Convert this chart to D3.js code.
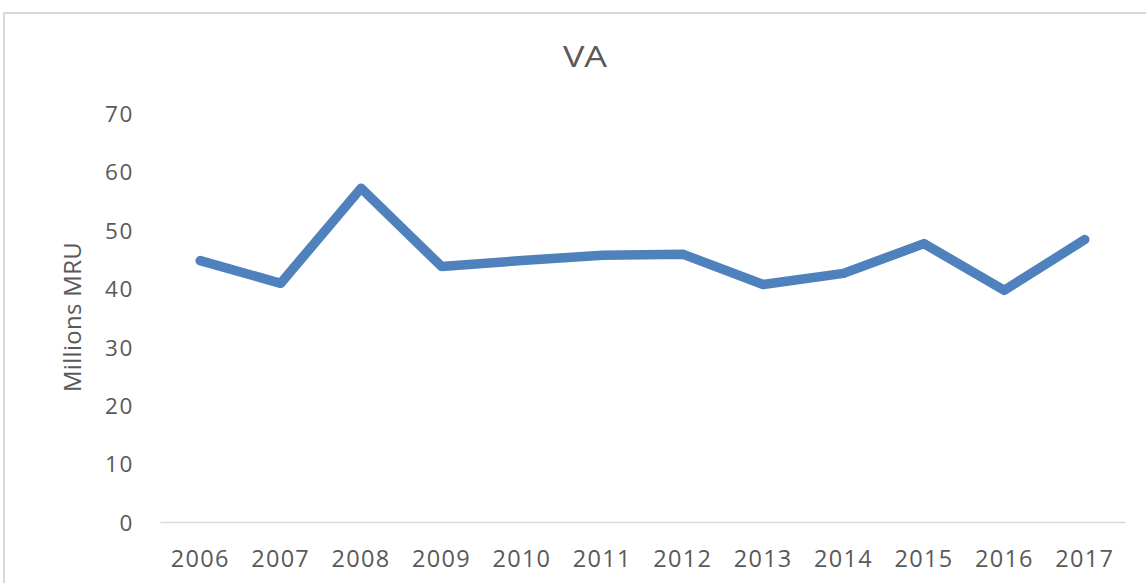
<!DOCTYPE html>
<html>
<head>
<meta charset="utf-8">
<script src="https://cdn.jsdelivr.net/npm/d3@7"></script>
<style>
  html, body { margin: 0; padding: 0; background: #fff; }
  svg { display: block; }
  text { font-family: "Open Sans", "Liberation Sans", sans-serif; fill: #595959; }
</style>
</head>
<body>
<svg id="chart" width="1146" height="583"></svg>
<script>
// Value added, millions of MRU, by year
const years = ["2006","2007","2008","2009","2010","2011","2012","2013","2014","2015","2016","2017"];
const values = [44.8, 40.9, 57.2, 43.8, 44.8, 45.7, 45.9, 40.7, 42.6, 47.7, 39.7, 48.4];
const yTicks = [0, 10, 20, 30, 40, 50, 60, 70];
const title = "VA";
const yTitle = "Millions MRU";

const svg = d3.select("#chart");
const plot = { left: 160, right: 1125, top: 113.5, bottom: 522 };

// outer chart frame (runs off the right and bottom edges)
svg.append("rect")
  .attr("x", 4).attr("y", 13)
  .attr("width", 1300).attr("height", 700)
  .attr("fill", "none")
  .attr("stroke", "#d9d9d9")
  .attr("stroke-width", 2);

const x = d3.scaleBand().domain(years).range([plot.left, plot.right]);
const y = d3.scaleLinear().domain([0, 70]).range([plot.bottom, plot.top]);

// category axis
const xAxis = svg.append("g")
  .attr("transform", `translate(0,${plot.bottom})`)
  .call(d3.axisBottom(x).tickSize(0).tickPadding(0));
xAxis.select(".domain").attr("stroke", "#d9d9d9").attr("stroke-width", 1.5);
xAxis.selectAll("text")
  .attr("y", 45)
  .attr("dy", null)
  .style("font-size", "23.5px")
  .style("letter-spacing", "1.3px")
  .attr("fill", "#595959");

// value axis labels
const yAxis = svg.append("g")
  .attr("transform", `translate(${plot.left},0)`)
  .call(d3.axisLeft(y).tickValues(yTicks).tickSize(0).tickPadding(26));
yAxis.select(".domain").remove();
yAxis.selectAll("text")
  .attr("dy", "0.36em")
  .style("font-size", "22.5px")
  .style("letter-spacing", "1.6px")
  .attr("fill", "#595959");

// title, slightly widened
svg.append("text")
  .attr("transform", "translate(585,67) scale(1.2,1)")
  .attr("text-anchor", "middle")
  .style("font-size", "30px")
  .text(title);

// value axis title
svg.append("text")
  .attr("transform", "translate(81,317) rotate(-90)")
  .attr("text-anchor", "middle")
  .style("font-size", "24px")
  .style("letter-spacing", "0.3px")
  .text(yTitle);

// series line
const line = d3.line()
  .x((d, i) => x(years[i]) + x.bandwidth() / 2)
  .y(d => y(d));

svg.append("path")
  .datum(values)
  .attr("d", line)
  .attr("fill", "none")
  .attr("stroke", "#4f81bd")
  .attr("stroke-width", 9.5)
  .attr("stroke-linecap", "round")
  .attr("stroke-linejoin", "round");
</script>
</body>
</html>
